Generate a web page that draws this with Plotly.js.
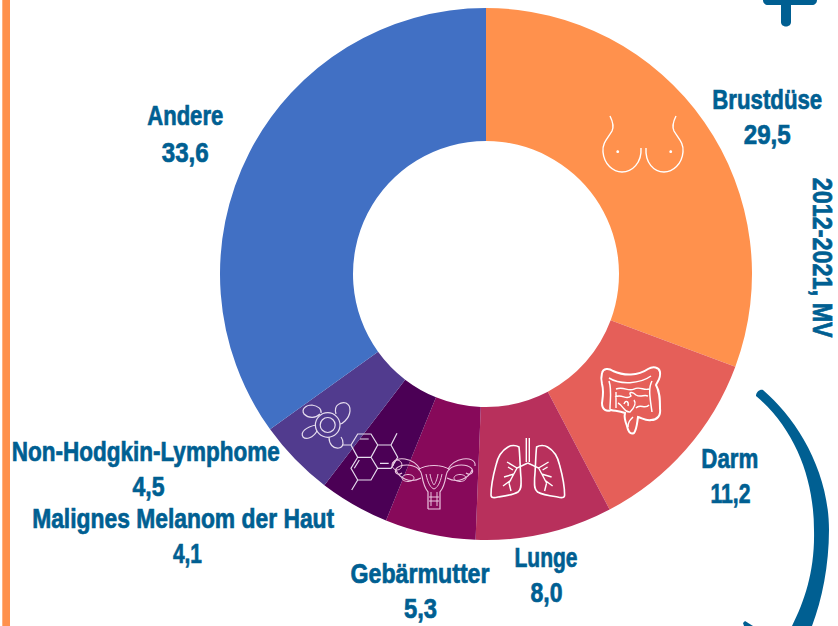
<!DOCTYPE html>
<html>
<head>
<meta charset="utf-8">
<script src="https://cdn.plot.ly/plotly-3.0.1.min.js"></script>
<style>
html,body{margin:0;padding:0;background:#fff;overflow:hidden}
#chart{width:838px;height:626px}
</style>
</head>
<body>
<div id="chart"></div>
<script>
var categories = ["Brustdüse","Darm","Lunge","Gebärmutter","Malignes Melanom der Haut","Non-Hodgkin-Lymphome","Andere"];
var values = [29.5,11.2,8.0,5.3,4.1,4.5,33.6];
var sliceColors = ["#FF914D","#E55F59","#B8305C","#87095A","#4B0055","#513B8E","#4170C4"];
var nameAnchors = [[767,99],[730,458],[546,557],[420,573],[183,518],[145,451],[185,116]];
var valueAnchors = [[767,134],[730,493],[546,592],[420,608],[187,553],[148,486],[185,152]];
var nameWidths = [110,57,63,139,302,268,76];
var valueWidths = [47,40,32,33,29,32,47];
var sideNote = "2012-2021, MV";
var sideNoteWidth = 160;

var W = 838, H = 626, INK = "#005F92";
function fx(x){return x/W;}
function fy(y){return 1-y/H;}
function pth(s){
  return s.replace(/(-?[\d.]+)[ ,](-?[\d.]+)/g,function(m,a,b){return fx(+a).toFixed(5)+","+fy(+b).toFixed(5);});
}
function shape(d,color,width,fill){
  return {type:"path",xref:"paper",yref:"paper",path:pth(d),layer:"above",
    line:{color:color||"#fff",width:width===undefined?1.4:width},fillcolor:fill||"rgba(0,0,0,0)"};
}
function ell(cx,cy,rx,ry){
  return "M"+(cx-rx)+" "+cy+" C"+(cx-rx)+" "+(cy-ry*0.55)+" "+(cx-rx*0.55)+" "+(cy-ry)+" "+cx+" "+(cy-ry)+
    " C"+(cx+rx*0.55)+" "+(cy-ry)+" "+(cx+rx)+" "+(cy-ry*0.55)+" "+(cx+rx)+" "+cy+
    " C"+(cx+rx)+" "+(cy+ry*0.55)+" "+(cx+rx*0.55)+" "+(cy+ry)+" "+cx+" "+(cy+ry)+
    " C"+(cx-rx*0.55)+" "+(cy+ry)+" "+(cx-rx)+" "+(cy+ry*0.55)+" "+(cx-rx)+" "+cy+" Z";
}
var shapes = [];
// page furniture
shapes.push(shape("M2.3 0 L10 0 L10 626 L2.3 626 Z",null,0,"#FF914D"));
shapes.push(shape("M763 0 L817 0 C817 3 815 5 812 5 L791 5 L791 22 C791 28 781 28 781 22 L781 5 L768 5 C765 5 763 3 763 0 Z",null,0,INK));
shapes.push(shape("M756 396 C756 392 760 389 763 390 C796 418 829 470 829 530 C829 565 822 600 812 626 L792 626 C805 600 815 570 814 530 C814 480 796 430 756 396 Z",null,0,INK));
shapes.push(shape("M743 623 L745 621 L753 626 L744 626 Z",null,0,INK));
// breast icon
shapes.push(shape("M610 116 C613 122 614 127 612 131 C608 138 602 143 603 152 C604 164 613 172 622 172 C632 172 642 163 641 148"));
shapes.push(shape("M676 116 C673 122 672 127 674 131 C678 138 684 143 683 152 C682 164 673 172 664 172 C654 172 645 163 646 148"));
shapes.push(shape(ell(617.7,151.7,1.4,1.4),null,0,"#fff"));
shapes.push(shape(ell(670.7,151.7,1.4,1.4),null,0,"#fff"));
// intestine icon
shapes.push(shape("M602 373 C603 368 609 368 613 371 C624 376 638 376 648 369 C653 366 659 367 660 372 C661 379 657 382 656 385 C660 392 660 400 660 408 C661 416 657 420 651 420 C646 421 642 418 638 417 C637 423 637 429 634 433 C630 435 628 431 627 426 C625 421 624 417 625 413 C619 411 615 411 611 410 C607 412 602 410 602 403 C603 396 604 391 602 384 C601 380 601 377 602 373 Z",null,2));
shapes.push(shape("M609 378 C620 385 640 384 651 376 M652 381 C648 388 650 398 652 412 M609 381 C612 390 610 400 610 409",null,1.5));
shapes.push(shape("M616 389 C624 386 628 392 634 389 C640 386 644 391 649 389 M615 397 C622 393 626 401 631 396 C628 392 632 391 636 395 C641 398 644 394 648 396 M618 403 C624 406 624 413 630 412 C634 408 637 404 634 400 M636 408 C640 403 645 410 649 405 M633 417 C630 420 628 422 628 427 M616 392 L616 408 M624 404 C626 399 629 402 628 406",null,1.4));
// lungs icon
shapes.push(shape("M526.3 438 L526.3 462 M529.3 438 L529.3 462",null,1.4));
shapes.push(shape("M519 447 C516 445 511 445 508 447 C501 451 498 456 496 465 C493 476 491 486 491 495 C491 498 494 498 498 497 C505 496 513 495 518 492 C522 489 521 484 521 478 C520 468 520 455 519 447 Z",null,1.6));
shapes.push(shape("M536.6 447 C539.6 445 544.6 445 547.6 447 C554.6 451 557.6 456 559.6 465 C562.6 476 564.6 486 564.6 495 C564.6 498 561.6 498 557.6 497 C550.6 496 542.6 495 537.6 492 C533.6 489 534.6 484 534.6 478 C535.6 468 535.6 455 536.6 447 Z",null,1.6));
shapes.push(shape("M527.8 463 L517 468 L509 483 M517 468 L507 462 M514 474 L504 477 M511 480 L503 486 M509 483 L511 491 M513 470 L508 467",null,1.4));
shapes.push(shape("M527.8 463 L538.6 468 L546.6 483 M538.6 468 L548.6 462 M541.6 474 L551.6 477 M544.6 480 L552.6 486 M546.6 483 L544.6 491 M542.6 470 L547.6 467",null,1.4));
// cell icon
var cellInk = "#E6DDEE";
shapes.push(shape(ell(327.7,425,12.3,12.3),cellInk,1.2));
shapes.push(shape(ell(327.7,425,7.5,7.5),cellInk,1.2));
shapes.push(shape("M336 414 C333 404 342 402 346 403 C352 406 351 415 345 421 C343 423 341 424 340 424",cellInk,1.2));
shapes.push(shape("M320 414 C316 418 309 419 304 414 C301 409 306 405 312 405 C318 406 322 409 321 413",cellInk,1.2));
shapes.push(shape("M317 431 C313 438 306 440 303 437 C300 432 306 427 316 425",cellInk,1.2));
shapes.push(shape("M329 437 C329 444 333 449 339 448 C344 447 344 441 341 437",cellInk,1.2));
// molecule icon
shapes.push(shape("M351 445 L357.7 434 L371 434 L377.7 445 L371 457.3 L357.7 457.3 Z M377.7 445 L391 445 L397.7 457.3 L391 468.3 L377.7 468.3 L371 457.3 M377.7 468.3 L371 480 L357.7 480 L351 468.3 L357.7 457.3 M391 445 L397 433.3 M357.7 480 L351.7 490 M351 445 L342 445 M360 439 L368.7 439 M380 463.3 L388.7 463.3 M354.3 468.3 L359.3 460",cellInk,1.2));
// uterus icon
var uterusInk = "#EBC5DF";
shapes.push(shape("M428 509 L440 509 L440 492 C444 487 445 482 446 476 C447 470 451 467 455 466 C461 464 469 465 472 469 C474 473 470 476 466 473 M428 509 L428 492 C424 487 423 482 422 476 C421 470 417 467 413 466 C407 464 399 465 396 469 C394 473 398 476 402 473",uterusInk,1.2));
shapes.push(shape("M418 470 C425 464 443 464 450 470 M431 492 L431 506 M437 492 L437 506 M429 497 L439 497 M429 501 L439 501 M426 474 C428 484 431 488 434 489 C437 488 440 484 442 474 M430 474 C431 480 433 484 434 485 C435 484 437 480 438 474",uterusInk,1));
shapes.push(shape("M393 466 C392 460 399 458 405 459 C411 460 417 464 420 469 M475 466 C476 460 469 458 463 459 C457 460 451 464 448 469 M396 470 C399 478 410 484 421 478 M472 470 C469 478 458 484 447 478",uterusInk,1.1));
shapes.push(shape(ell(408,478,6,3.5),uterusInk,1));
shapes.push(shape(ell(460,478,6,3.5),uterusInk,1));
shapes.push(shape(ell(397,465,5,5),uterusInk,1));

// text
function fmt(v){return v.toFixed(1).replace(".",",");}
var annotations = [], fitWidths = [];
var textFont = {family:"'Liberation Sans',sans-serif",size:28,color:INK,weight:700};
function addText(text,xy,w){
  annotations.push({xref:"paper",yref:"paper",x:fx(xy[0]),y:fy(xy[1]),xanchor:"center",yanchor:"middle",
    text:text,showarrow:false,font:textFont});
  fitWidths.push(w);
}
categories.forEach(function(c,i){
  addText(c,nameAnchors[i],nameWidths[i]);
  addText(fmt(values[i]),valueAnchors[i],valueWidths[i]);
});
addText(sideNote,[823,258],sideNoteWidth);
annotations[annotations.length-1].textangle=90;

var data = [{
  type:"pie",labels:categories,values:values,sort:false,direction:"clockwise",rotation:0,hole:0.5,
  marker:{colors:sliceColors,line:{width:0}},textinfo:"none",hoverinfo:"label+value",
  domain:{x:[(486-266)/W,(486+266)/W],y:[(H-540)/H,(H-8)/H]},showlegend:false
}];
var layout = {width:W,height:H,margin:{l:0,r:0,t:0,b:0},paper_bgcolor:"#fff",plot_bgcolor:"#fff",
  showlegend:false,shapes:shapes,annotations:annotations};
Plotly.newPlot("chart",data,layout,{displayModeBar:false,staticPlot:true}).then(function(gd){
  // no condensed face is installed: fit each label to the width it has in the reference
  var nodes = gd.querySelectorAll("text.annotation-text");
  nodes.forEach(function(n,i){
    n.setAttribute("textLength",fitWidths[i]);
    n.setAttribute("lengthAdjust","spacingAndGlyphs");
    n.style.stroke = INK;
    n.style.strokeWidth = "0.7px";
    var bg = n.parentNode.querySelector("rect.bg");
    if(bg){
      var oldW = +bg.getAttribute("width"), oldX = +bg.getAttribute("x");
      bg.setAttribute("x", oldX + (oldW-fitWidths[i])/2);
      bg.setAttribute("width", fitWidths[i]);
    }
  });
});
</script>
</body>
</html>
